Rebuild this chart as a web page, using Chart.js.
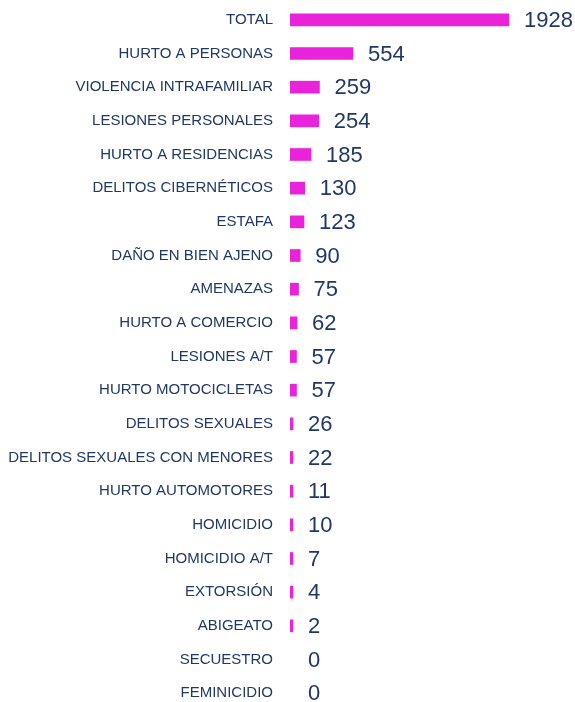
<!DOCTYPE html>
<html lang="es">
<head>
    <meta charset="UTF-8">
    <title>Delitos</title>
    <style>
        html, body { margin: 0; padding: 0; background: #fff; overflow: hidden; }
        #myChart { display: block; margin-top: -15px; }
    </style>
</head>
<body>
    <canvas id="myChart" width="575" height="743"></canvas>

    <script src="https://cdn.jsdelivr.net/npm/chart.js"></script>

    <script>
        // datos
        const categorias = [
            "TOTAL", "HURTO A PERSONAS", "VIOLENCIA INTRAFAMILIAR", "LESIONES PERSONALES",
            "HURTO A RESIDENCIAS", "DELITOS CIBERNÉTICOS", "ESTAFA", "DAÑO EN BIEN AJENO",
            "AMENAZAS", "HURTO A COMERCIO", "LESIONES A/T", "HURTO MOTOCICLETAS",
            "DELITOS SEXUALES", "DELITOS SEXUALES CON MENORES", "HURTO AUTOMOTORES",
            "HOMICIDIO", "HOMICIDIO A/T", "EXTORSIÓN", "ABIGEATO", "SECUESTRO", "FEMINICIDIO"
        ];
        const casos = [1928, 554, 259, 254, 185, 130, 123, 90, 75, 62, 57, 57, 26, 22, 11, 10, 7, 4, 2, 0, 0];

        const navy = '#1F3868';
        const magenta = '#E823D9';

        // numero a la derecha de cada barra
        const valueLabels = {
            id: 'valueLabels',
            afterDatasetsDraw(chart) {
                const c = chart.ctx;
                const meta = chart.getDatasetMeta(0);
                const base = chart.scales.x.getPixelForValue(0);
                c.save();
                c.fillStyle = navy;
                c.font = '22px "Liberation Sans", Arial, sans-serif';
                c.textBaseline = 'middle';
                c.textAlign = 'left';
                meta.data.forEach((bar, i) => {
                    const end = Math.max(bar.x, base + 3);
                    c.fillText(String(casos[i]), end + 15, bar.y + 1);
                });
                c.restore();
            }
        };

        new Chart(document.getElementById('myChart'), {
            type: 'bar',
            data: {
                labels: categorias,
                datasets: [{
                    data: casos.map(v => v === 0 ? null : v),
                    backgroundColor: magenta,
                    barThickness: 12,
                    minBarLength: 3
                }]
            },
            options: {
                indexAxis: 'y',
                responsive: false,
                animation: false,
                layout: { padding: { top: 3, bottom: 3, left: 0, right: 1 } },
                plugins: {
                    legend: { display: false },
                    tooltip: { enabled: false }
                },
                scales: {
                    x: {
                        display: false,
                        min: 0,
                        max: 2500
                    },
                    y: {
                        grid: { display: false },
                        border: { display: false },
                        afterFit(scale) { scale.width = 290; },
                        ticks: {
                            color: navy,
                            padding: 9,
                            autoSkip: false,
                            font: { family: '"Liberation Sans", Arial, sans-serif', size: 15 }
                        }
                    }
                }
            },
            plugins: [valueLabels]
        });
    </script>
</body>
</html>
